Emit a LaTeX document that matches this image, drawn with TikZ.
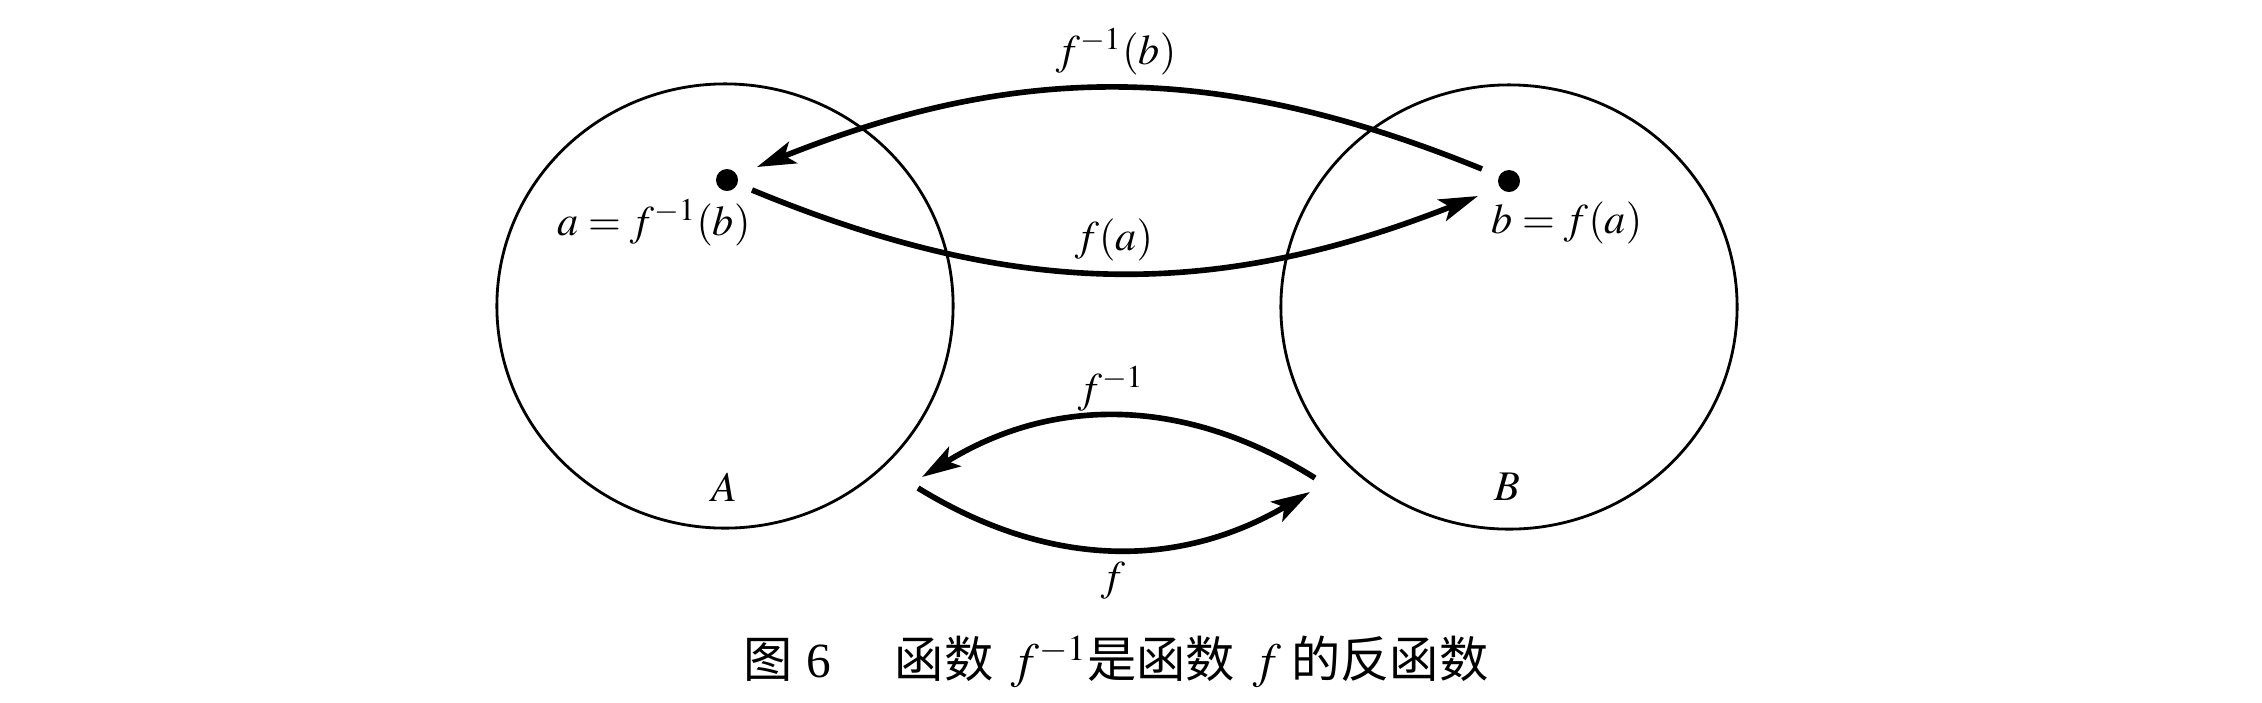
\documentclass[tikz,border=0pt]{standalone}
\usepackage{mathptmx}
\usepackage{fontspec}
\setmainfont{Liberation Serif}
\newfontfamily\cjk{Noto Sans CJK SC}
\usetikzlibrary{arrows.meta,shapes.geometric}
\begin{document}
\begin{tikzpicture}[x=0.01cm,y=-0.01cm,
  setshape/.style={draw, ellipse, line width=0.8pt, inner sep=0pt},
  dotnode/.style={circle, fill, inner sep=0pt, minimum size=0.22cm},
  maparrow/.style={line width=1.6pt, -{Stealth[length=11pt,width=6.5pt,inset=2.5pt]}},
  lbl/.style={inner sep=0pt, font=\fontsize{12}{14}\selectfont},
  captxt/.style={inner sep=0pt, font=\fontsize{14}{16}\selectfont}]
\useasboundingbox (0,0) rectangle (2262,702);
\fill[white] (0,0) rectangle (2262,702);
% sets
\node[setshape, minimum width=4.56cm, minimum height=4.44cm] (setA) at (725,306) {};
\node[setshape, minimum width=4.56cm, minimum height=4.44cm] (setB) at (1509,307) {};
% elements
\node[dotnode] (a) at (727,180) {};
\node[dotnode] (b) at (1509,181) {};
% arrow end points
\coordinate (bTop) at (1482,169);
\coordinate (aTop) at (757,167);
\coordinate (aBot) at (752,190);
\coordinate (bBot) at (1478,196);
\coordinate (Rtop) at (1315,478);
\coordinate (Ltop) at (922,477);
\coordinate (Lbot) at (918,488);
\coordinate (Rbot) at (1310,492);
% arrows
\draw[maparrow] (bTop) to[bend right=22] (aTop);
\draw[maparrow] (aBot) to[bend right=22] (bBot);
\draw[maparrow] (Rtop) to[bend right=32] (Ltop);
\draw[maparrow] (Lbot) to[bend right=31] (Rbot);
% labels
\node[lbl] (lfinvb) at (1116,52) {$f^{-1}(b)$};
\node[lbl] (lfa) at (1114,240) {$f(a)$};
\node[lbl] (la) at (654,223) {$a = f^{-1}(b)$};
\node[lbl] (lb) at (1567,223) {$b = f(a)$};
\node[lbl] (lA) at (724,487) {$A$};
\node[lbl] (lB) at (1507,487) {$B$};
\node[lbl] (lfinv) at (1111,389) {$f^{-1}$};
\node[lbl] (lf) at (1113,581) {$f$};
% caption
\node[captxt] (cap) at (1116,662) {{\cjk 图}\hspace{4pt}6\hspace{18pt}{\cjk 函数}\hspace{5pt}$f^{-1}${\cjk 是函数}\hspace{5pt}$f$\hspace{3pt}{\cjk 的反函数}};
\end{tikzpicture}
\end{document}
